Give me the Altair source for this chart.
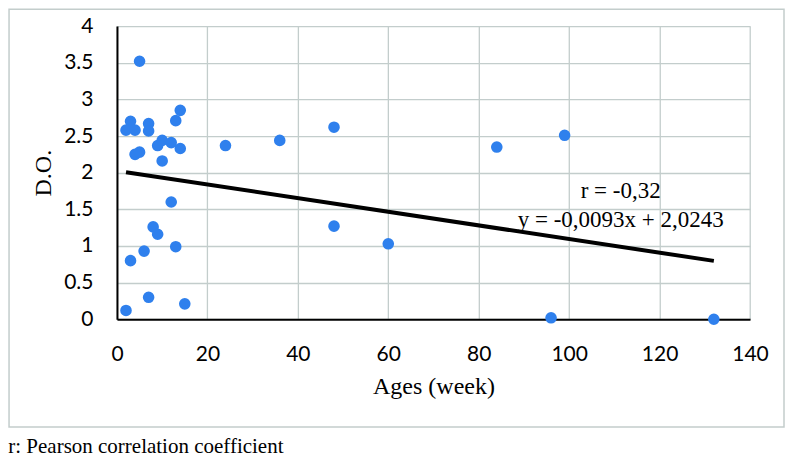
import altair as alt
import pandas as pd

# ---- data ----
ages = [5, 3, 2, 4, 7, 7, 14, 13, 9, 10, 12, 14, 4, 5, 10, 24, 36, 12, 8, 9,
        13, 6, 3, 7, 15, 2, 48, 48, 60, 84, 99, 96, 132]
do_vals = [3.52, 2.70, 2.58, 2.58, 2.67, 2.57, 2.85, 2.71, 2.37, 2.44, 2.41,
           2.33, 2.25, 2.28, 2.16, 2.37, 2.44, 1.60, 1.26, 1.16, 0.99, 0.93,
           0.80, 0.30, 0.21, 0.12, 2.62, 1.27, 1.03, 2.35, 2.51, 0.02, 0.0]
slope = -0.0093
intercept = 2.0243
trend_x = [2, 132]
x_ticks = [0, 20, 40, 60, 80, 100, 120, 140]
y_ticks = [0, 0.5, 1, 1.5, 2, 2.5, 3, 3.5, 4]
ann_labels = ["r = -0,32", "y = -0,0093x + 2,0243"]
ann_x = [111.4, 111.4]
ann_y = [1.66, 1.26]
footnote = "r: Pearson correlation coefficient"

W, H = 633.3, 293.3
GRID = "#c3cdcc"
BLUE = "#2F80ED"

pts = pd.DataFrame({"age": ages, "do": do_vals})
trend = pd.DataFrame({"age": trend_x,
                      "do": [slope * v + intercept for v in trend_x]})
ann = pd.DataFrame({"age": ann_x, "do": ann_y, "label": ann_labels})
one = pd.DataFrame({"label": [footnote]})

xs = alt.Scale(domain=[0, 140], nice=False, zero=True)
ys = alt.Scale(domain=[0, 4], nice=False, zero=True)

x_axis = alt.Axis(values=x_ticks, grid=True, gridColor=GRID, gridWidth=1.3,
                  domainColor="black", domainWidth=2, ticks=False, tickSize=0,
                  labelFont="Lato", labelFontSize=21, labelColor="black",
                  labelPadding=24, labelFlush=False, labelOverlap=False,
                  title="Ages (week)", titleFont="Liberation Serif",
                  titleFontSize=24, titleFontWeight="normal", titleColor="black",
                  titleBaseline="alphabetic", titleY=74.3, titleX=W / 2,
                  titleAlign="center")
y_axis = alt.Axis(values=y_ticks, format="~g", grid=True, gridColor=GRID,
                  gridWidth=1.3, domainColor="black", domainWidth=2,
                  ticks=False, tickSize=0, labelFont="Lato", labelFontSize=21,
                  labelColor="black", labelPadding=24, labelFlush=False,
                  labelOverlap=False,
                  title="D.O.", titleFont="Liberation Serif", titleFontSize=24,
                  titleFontWeight="normal", titleColor="black",
                  titleX=-73.4, titleY=H / 2, titleAlign="center",
                  titleBaseline="middle", titleAngle=270)


def xenc():
    return alt.X("age:Q", scale=xs, axis=x_axis)


def yenc():
    return alt.Y("do:Q", scale=ys, axis=y_axis)


border = alt.Chart(one).mark_rect(filled=False, stroke=GRID,
                                  strokeWidth=1.5).encode(
    x=alt.value(-107.95), x2=alt.value(667.3),
    y=alt.value(-16.95), y2=alt.value(401)
)

points = alt.Chart(pts).mark_circle(size=135, color=BLUE, opacity=1).encode(
    x=xenc(), y=yenc()
)

line = alt.Chart(trend).mark_line(color="black", strokeWidth=4).encode(
    x=xenc(), y=yenc()
)

labels = alt.Chart(ann).mark_text(font="Liberation Serif", fontSize=23,
                                  color="black", align="center",
                                  baseline="alphabetic").encode(
    x=xenc(), y=yenc(), text="label:N"
)

note = alt.Chart(one).mark_text(font="Liberation Serif", fontSize=21,
                                color="black", align="left",
                                baseline="alphabetic").encode(
    x=alt.value(-108.7), y=alt.value(427), text="label:N"
)

chart = alt.layer(points, line, labels, border, note).properties(
    width=W, height=H, padding=0, background="white"
).configure_view(strokeWidth=0)

chart.save("out.html", embed_options={"renderer": "svg", "actions": False})
